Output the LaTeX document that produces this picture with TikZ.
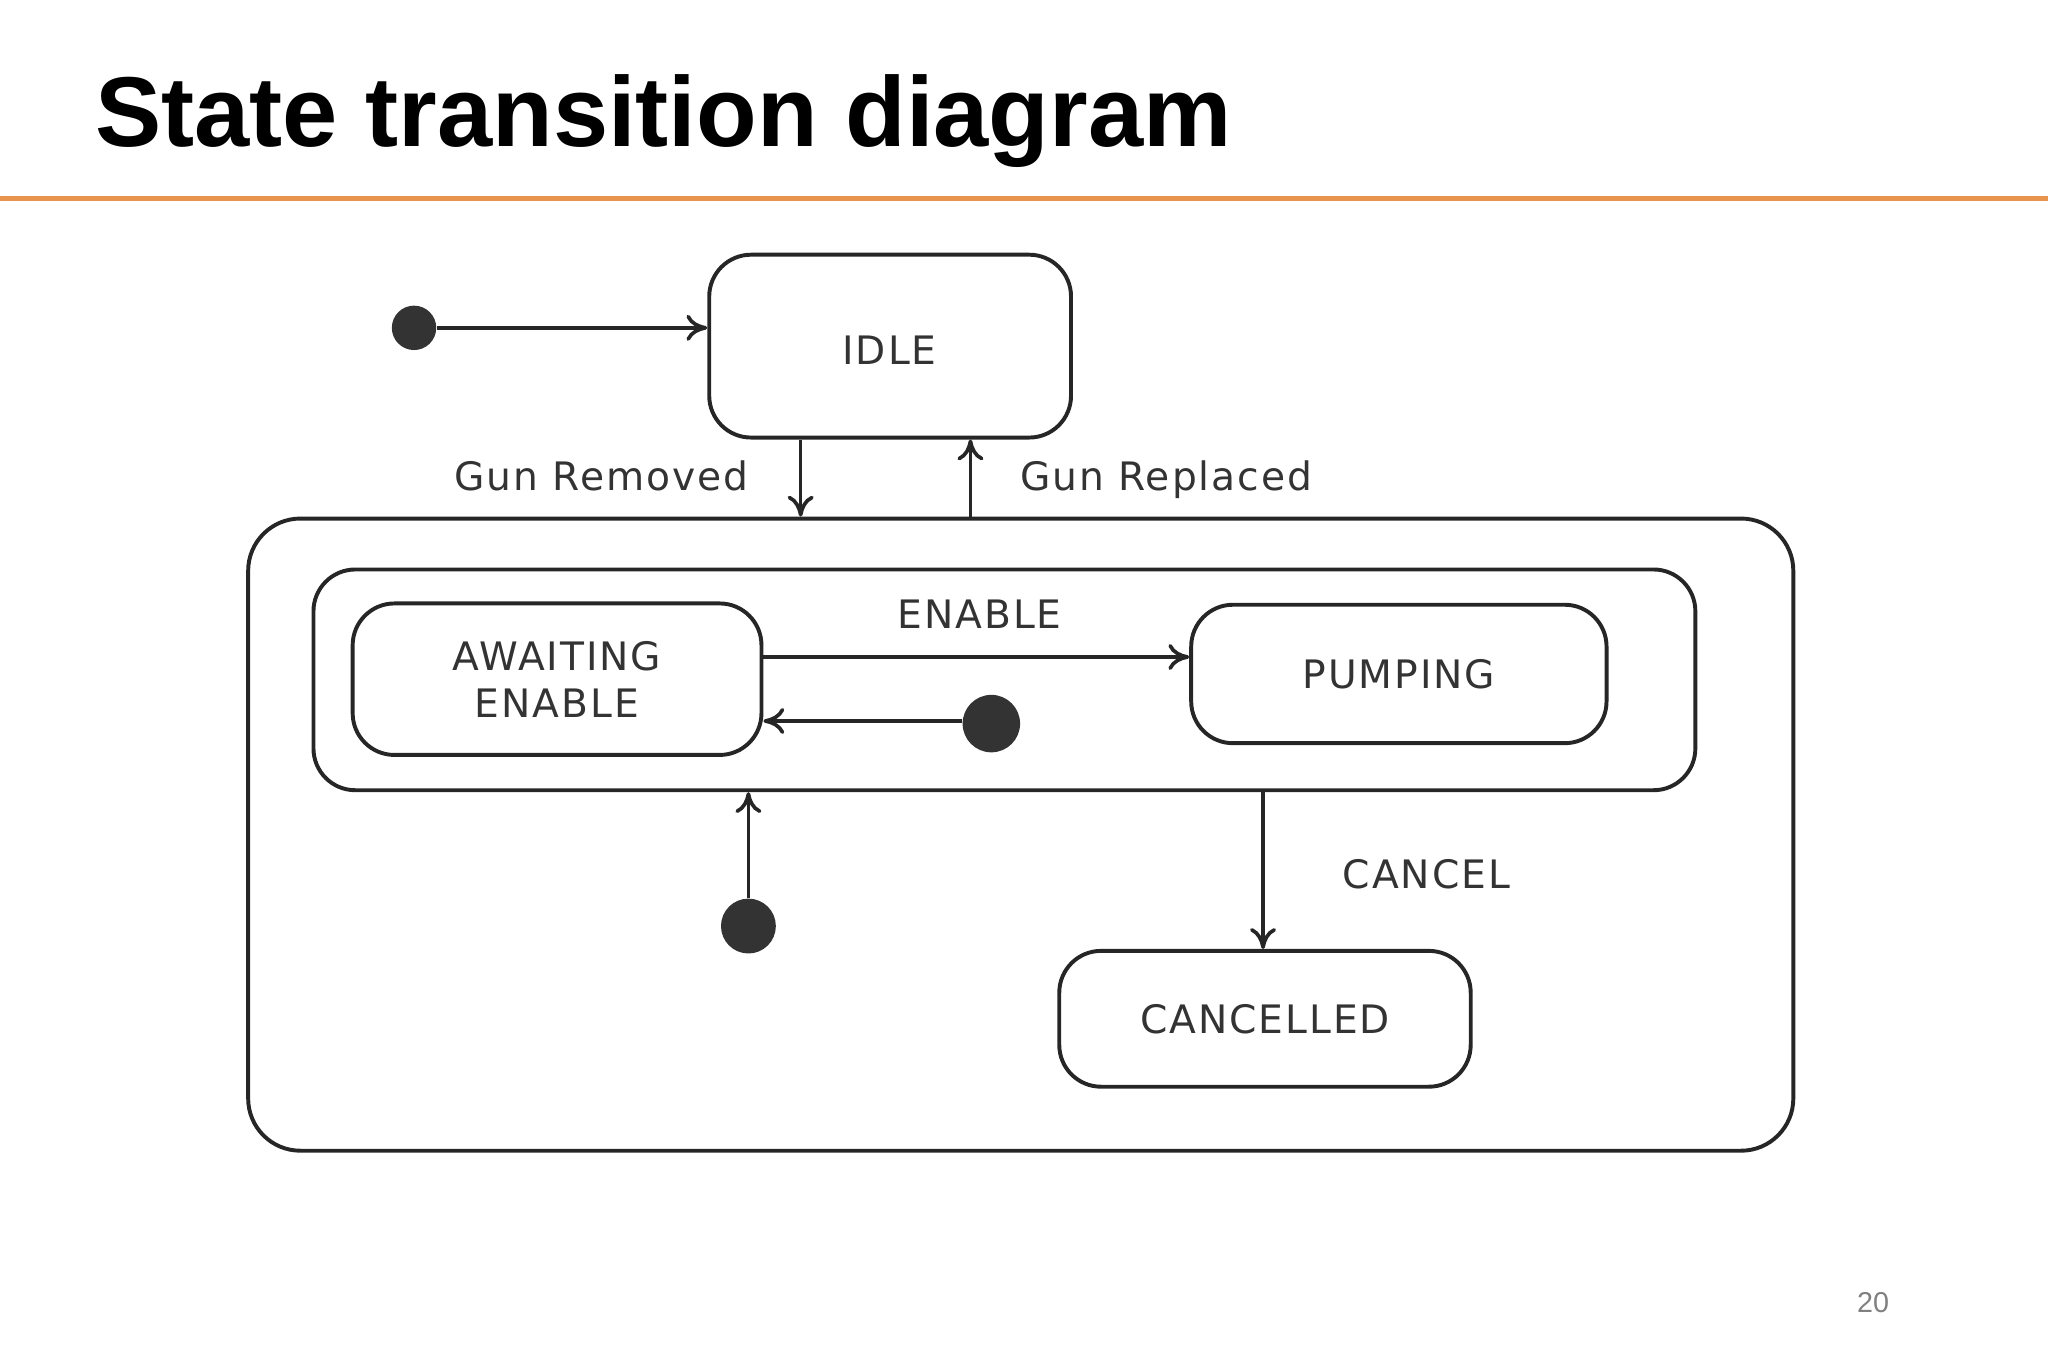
\documentclass[tikz,border=0pt]{standalone}
\usepackage{fontspec}
\setmainfont{Liberation Sans}
\newfontfamily\lblfont{DejaVu Sans}[LetterSpace=5]
\usetikzlibrary{arrows.meta}
\definecolor{orng}{HTML}{E8944E}
\begin{document}
\begin{tikzpicture}[x=0.5pt,y=-0.5pt,
  st/.style={draw=black!85,line width=1.5pt,rounded corners=16pt,inner sep=0pt},
  lbl/.style={font=\lblfont\fontsize{15}{18}\selectfont,text=black!80},
  con/.style={draw=black!85,line width=1.4pt,-{To[length=8pt,width=10pt]}},
  dot/.style={circle,fill=black!80,inner sep=0pt}]
\useasboundingbox (0,0) rectangle (1568,1045);
\node[anchor=base west,font=\bfseries\fontsize{38}{40}\selectfont] (title) at (66,112) {State transition diagram};
\draw[orng,line width=2pt] (0,152) -- (1568,152);
\node[dot,minimum size=17pt] (i0) at (317,251) {};
\node[st,minimum width=138.5pt,minimum height=70pt] (idle) at (681.5,265) {};
\node[lbl] (idlet) at (681,268) {IDLE};
\node[st,rounded corners=20pt,minimum width=591.5pt,minimum height=242pt] (outer) at (781.5,639) {};
\node[st,minimum width=529pt,minimum height=84.5pt] (inner) at (769,520.5) {};
\node[st,minimum width=156.5pt,minimum height=58pt,align=center,lbl] (await) at (426.5,520) {AWAITING\\ENABLE};
\node[st,minimum width=159pt,minimum height=53pt,lbl] (pump) at (1071,516) {PUMPING};
\node[st,minimum width=157.5pt,minimum height=52pt,lbl] (canc) at (968.5,780) {CANCELLED};
\node[dot,minimum size=22pt] (i1) at (759,554) {};
\node[dot,minimum size=21pt] (i2) at (573,709) {};
\draw[con] (i0) -- (idle.west|-i0);
\draw[con] (idle.south-|613,0) -- (outer.north-|613,0);
\draw[con] (outer.north-|743,0) -- (idle.south-|743,0);
\node[lbl,anchor=east] (gr) at (580,364) {Gun Removed};
\node[lbl,anchor=west] (gp) at (774,367) {Gun Replaced};
\draw[con] (await.east|-0,503) -- (pump.west|-0,503);
\node[lbl] (en) at (750,470) {ENABLE};
\draw[con] (i1.west|-0,552) -- (await.east|-0,552);
\draw[con] (i2) -- (inner.south-|i2);
\draw[con] (inner.south-|967,0) -- (canc.north-|967,0);
\node[lbl] (cl) at (1092,669) {CANCEL};
\node[text=black!50,font=\fontsize{11}{12}\selectfont] (pg) at (1434,997) {20};
\end{tikzpicture}
\end{document}
